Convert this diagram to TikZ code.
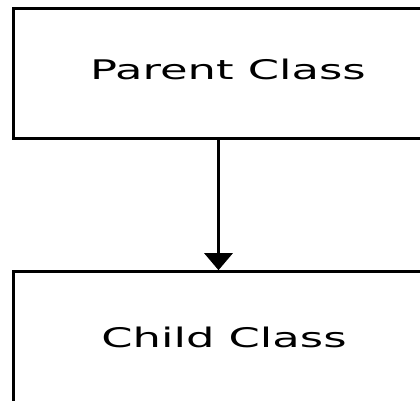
\documentclass[tikz,border=0pt]{standalone}
\usepackage{fontspec}
\setmainfont{DejaVu Sans}
\usetikzlibrary{arrows.meta,positioning}
\tikzset{
classbox/.style = {draw=black, line width=3pt, inner sep=0pt, anchor=north west, text depth=9pt,
font=\fontsize{27}{32}\selectfont},% boite de classe
arrow_b/.style = {line width=3pt, -{Triangle[width=28pt, length=17pt]}}% fleche heritage
}
\newcommand{\wide}[1]{\scalebox{1.66}[1]{#1}}
\begin{document}
\begin{tikzpicture}
	\useasboundingbox (0,0) rectangle (420pt,-400pt);
	\node [classbox, minimum width=429pt, minimum height=130.2pt] (parent) at (12pt,-7pt) {\wide{Parent Class}};
	\node [classbox, minimum width=421pt, minimum height=140pt] (child) at (12pt,-270.2pt) {\wide{Child Class}};
	\draw [arrow_b] ([xshift=-9.5pt]parent.south) -- ([xshift=-9.5pt]parent.south |- child.north);
\end{tikzpicture}
\end{document}
